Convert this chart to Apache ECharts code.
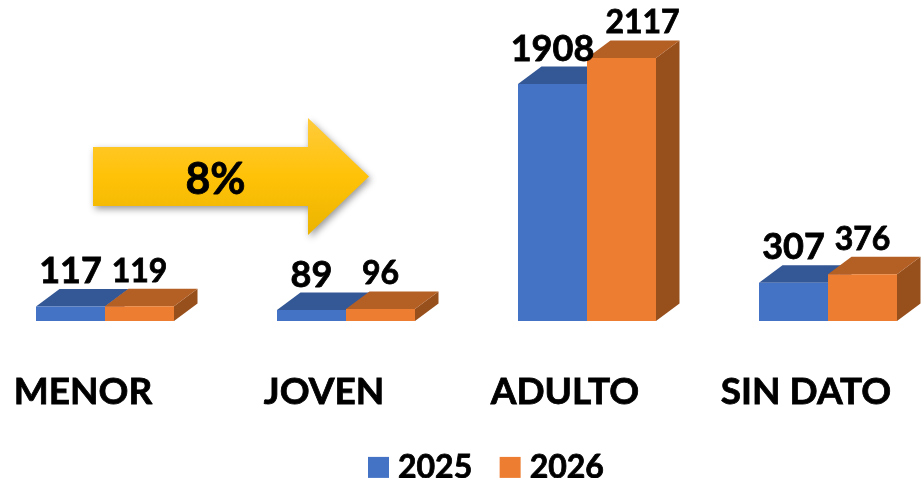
<!DOCTYPE html>
<html>
<head>
<meta charset="utf-8">
<style>
  html, body { margin: 0; padding: 0; background: #fff; }
  #chart { width: 922px; height: 478px; }
</style>
<script src="https://cdn.jsdelivr.net/npm/echarts@6/dist/echarts.min.js"></script>
</head>
<body>
<div id="chart"></div>
<script>
const categories = ["MENOR", "JOVEN", "ADULTO", "SIN DATO"];
const values2025 = [117, 89, 1908, 307];
const values2026 = [119, 96, 2117, 376];

const fontFamily = 'Lato, "Open Sans", sans-serif';
const depthX = 23.5;
const depthY = 17.5;

// front, top and side colours of a 3D column
function barRenderer(side, front, top, right, labelSize) {
  return (params, api) => {
    const index = api.value(0);
    const value = api.value(1);
    const [cx, yTop] = api.coord([index, value]);
    const [, yBase] = api.coord([index, 0]);
    const width = api.size([1, 0])[0] * 0.2863;
    const x0 = side < 0 ? cx - width : cx;
    const x1 = x0 + width;
    // the tallest label is pushed right, otherwise it runs into its neighbour
    const labelShift = value === Math.max(...values2026) ? 21 : 0;
    return {
      type: "group",
      children: [
        { type: "polygon", shape: { points: [[x1, yTop], [x1 + depthX, yTop - depthY], [x1 + depthX, yBase - depthY], [x1, yBase]] }, style: { fill: right } },
        { type: "polygon", shape: { points: [[x0, yTop], [x0 + depthX, yTop - depthY], [x1 + depthX, yTop - depthY], [x1, yTop]] }, style: { fill: top } },
        { type: "rect", shape: { x: x0, y: yTop, width: width, height: yBase - yTop }, style: { fill: front } },
        {
          type: "text",
          z2: 100,
          style: {
            x: (x0 + x1) / 2 + labelShift,
            y: yTop - 35,
            text: String(value),
            fill: "#000",
            stroke: "#000",
            lineWidth: 0.8,
            font: `bold ${labelSize}px ${fontFamily}`,
            align: "center",
            verticalAlign: "middle"
          }
        }
      ]
    };
  };
}

const chart = echarts.init(document.getElementById("chart"), null, { renderer: "canvas" });
chart.setOption({
  animation: false,
  backgroundColor: "#fff",
  grid: { left: -15.5, width: 964, top: 10.5, bottom: 157, outerBoundsMode: "none" },
  legend: {
    left: 368,
    top: 451,
    padding: 0,
    itemWidth: 21,
    itemHeight: 21,
    itemGap: 27,
    icon: "rect",
    data: ["2025", "2026"],
    textStyle: { fontFamily, fontWeight: "bold", fontSize: 32, color: "#000", padding: [0, 0, 0, 4], textBorderColor: "#000", textBorderWidth: 0.8 }
  },
  xAxis: {
    type: "category",
    data: categories,
    axisLine: { show: false },
    axisTick: { show: false },
    axisLabel: {
      interval: 0,
      margin: 53,
      padding: [0, 44, 0, 0],
      fontFamily,
      fontWeight: "bold",
      fontSize: 37,
      color: "#000",
      textBorderColor: "#000",
      textBorderWidth: 0.8
    }
  },
  yAxis: { type: "value", min: 0, max: 2500, show: false },
  series: [
    {
      name: "2025",
      type: "custom",
      itemStyle: { color: "#4472C4" },
      renderItem: barRenderer(-1, "#4472C4", "#345795", "#345795", 36),
      encode: { x: 0, y: 1 },
      data: values2025.map((v, i) => [i, v])
    },
    {
      name: "2026",
      type: "custom",
      itemStyle: { color: "#ED7D31" },
      renderItem: barRenderer(1, "#ED7D31", "#B45F24", "#974F1C", 32),
      encode: { x: 0, y: 1 },
      data: values2026.map((v, i) => [i, v])
    }
  ],
  graphic: [
    {
      type: "polygon",
      shape: { points: [[93, 147], [308, 147], [308, 118], [369, 176.5], [308, 235], [308, 206], [93, 206]] },
      style: {
        fill: new echarts.graphic.LinearGradient(0, 0, 0, 1, [
          { offset: 0, color: "#FFCB3C" },
          { offset: 0.5, color: "#FFC208" },
          { offset: 1, color: "#EBB400" }
        ]),
        shadowColor: "rgba(0,0,0,0.4)",
        shadowBlur: 7,
        shadowOffsetX: 2,
        shadowOffsetY: 3
      }
    },
    {
      type: "text",
      left: 185,
      top: 158,
      style: { text: "8%", fill: "#000", stroke: "#000", lineWidth: 0.8, font: `bold 43px ${fontFamily}` }
    }
  ]
});
</script>
</body>
</html>
